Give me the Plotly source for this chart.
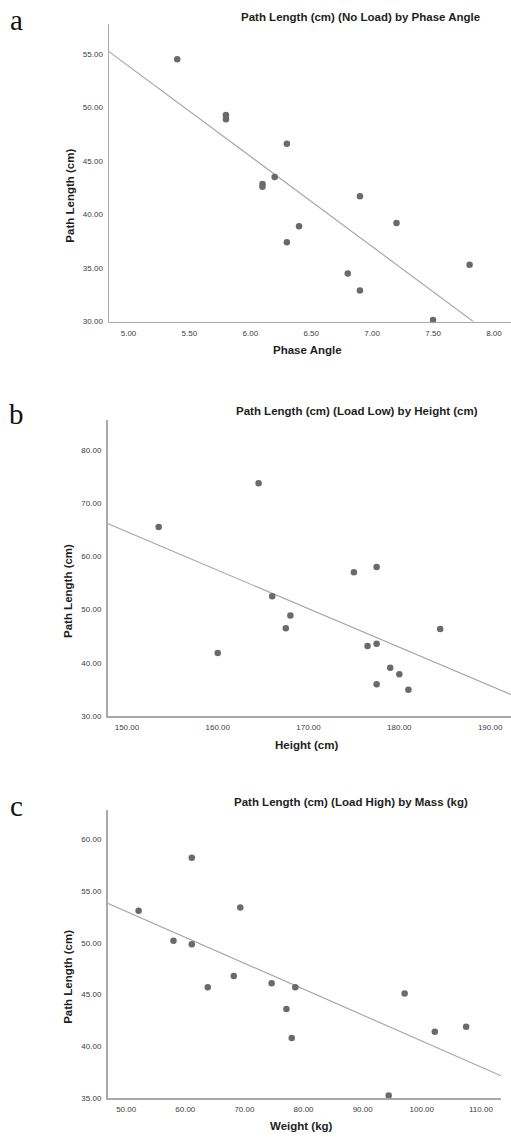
import numpy as np
import plotly.graph_objects as go

W, H = 511, 1138

# ---- Data ----
phase_angle = [5.4, 5.8, 5.8, 6.3, 6.2, 6.1, 6.1, 6.9, 7.2, 6.4, 6.3, 7.8, 6.8, 6.9, 7.5]
path_no_load = [54.5, 49.3, 48.9, 46.6, 43.5, 42.85, 42.6, 41.7, 39.2, 38.9, 37.4, 35.3, 34.5, 32.9, 30.15]

height_cm = [153.5, 164.5, 160.0, 166.0, 168.0, 167.5, 175.0, 177.5, 176.5, 177.5, 179.0, 180.0, 177.5, 181.0, 184.5]
path_load_low = [65.5, 73.7, 41.9, 52.5, 48.9, 46.5, 57.0, 58.0, 43.2, 43.6, 39.1, 37.9, 36.0, 35.0, 46.4]

mass_kg = [52.1, 61.1, 58.0, 61.1, 69.3, 63.8, 68.2, 74.6, 78.6, 77.1, 78.0, 94.4, 97.1, 102.2, 107.5]
path_load_high = [53.1, 58.2, 50.2, 49.85, 53.4, 45.7, 46.8, 46.1, 45.7, 43.6, 40.8, 35.25, 45.1, 41.4, 41.9]

titles = ["Path Length (cm) (No Load) by Phase Angle",
          "Path Length (cm) (Load Low) by Height (cm)",
          "Path Length (cm) (Load High) by Mass (kg)"]
x_titles = ["Phase Angle", "Height (cm)", "Weight (kg)"]
y_title = "Path Length (cm)"
panel_labels = ["a", "b", "c"]

x_ticks = [[5.0, 5.5, 6.0, 6.5, 7.0, 7.5, 8.0],
           [150, 160, 170, 180, 190],
           [50, 60, 70, 80, 90, 100, 110]]
y_ticks = [[30, 35, 40, 45, 50, 55],
           [30, 40, 50, 60, 70, 80],
           [35, 40, 45, 50, 55, 60]]

# ---- Layout (pixels) ----
panels = [
    dict(x=phase_angle, y=path_no_load, xr=[4.84, 8.14], yr=[30, 57.8],
         px=(109, 511), py=(24, 323), title_xy=(360, 17), xt_y=352, yt_x=70, lab_y=20),
    dict(x=height_cm, y=path_load_low, xr=[147.86, 192.3], yr=[30, 85.6],
         px=(107.5, 511), py=(421.7, 719.5), title_xy=(357, 413), xt_y=748, yt_x=68, lab_y=416),
    dict(x=mass_kg, y=path_load_high, xr=[46.84, 113.4], yr=[35, 62.84],
         px=(107.5, 501), py=(813.3, 1103), title_xy=(351, 806), xt_y=1131, yt_x=68, lab_y=810),
]

AX_COLOR = "#a9a9a9"
PT_COLOR = "#6a6a6a"
LINE_COLOR = "#a3a3a3"
TXT = "#1e1e1e"
TICK_TXT = "#3c3c3c"

fig = go.Figure()
annotations = []
layout = dict(width=W, height=H, margin=dict(l=0, r=0, t=0, b=0),
              paper_bgcolor="white", plot_bgcolor="white", showlegend=False,
              font=dict(family="Liberation Sans, Arial, sans-serif"))

for i, p in enumerate(panels):
    n = "" if i == 0 else str(i + 1)
    xa, ya = "x" + n, "y" + n
    xs = np.array(p["x"], dtype=float)
    ys = np.array(p["y"], dtype=float)
    slope, icpt = np.polyfit(xs, ys, 1)
    lx = np.array(p["xr"])
    ly = icpt + slope * lx
    fig.add_trace(go.Scatter(x=lx, y=ly, mode="lines", xaxis=xa, yaxis=ya,
                             line=dict(color=LINE_COLOR, width=1.1), hoverinfo="skip"))
    fig.add_trace(go.Scatter(x=xs, y=ys, mode="markers", xaxis=xa, yaxis=ya, cliponaxis=False,
                             marker=dict(color=PT_COLOR, size=6.5, line=dict(width=0))))
    x0, x1 = p["px"]
    y0, y1 = p["py"]
    common = dict(showgrid=False, zeroline=False, showline=True, linecolor=AX_COLOR,
                  linewidth=1.5, ticks="", tickformat=".2f",
                  tickfont=dict(size=8, color=TICK_TXT, family="Liberation Sans, Arial"))
    layout["xaxis" + n] = dict(common, domain=[x0 / W, x1 / W], range=p["xr"],
                               tickvals=x_ticks[i], anchor=ya, ticklabelstandoff=3)
    layout["yaxis" + n] = dict(common, domain=[1 - y1 / H, 1 - y0 / H], range=p["yr"],
                               tickvals=y_ticks[i], anchor=xa, ticklabelstandoff=3)
    tx, ty = p["title_xy"]
    annotations.append(dict(text="<b>%s</b>" % titles[i], x=tx / W, y=1 - ty / H,
                            xref="paper", yref="paper", showarrow=False,
                            xanchor="center", yanchor="middle",
                            font=dict(size=11.5, color=TXT)))
    annotations.append(dict(text="<b>%s</b>" % x_titles[i], x=((x0 + x1) / 2 - 3) / W,
                            y=1 - p["xt_y"] / H, xref="paper", yref="paper", showarrow=False,
                            xanchor="center", yanchor="middle",
                            font=dict(size=11.5, color=TXT)))
    annotations.append(dict(text="<b>%s</b>" % y_title, x=p["yt_x"] / W,
                            y=1 - ((y0 + y1) / 2 + 23) / H, xref="paper", yref="paper",
                            showarrow=False, textangle=-90, xanchor="center", yanchor="middle",
                            font=dict(size=11.5, color=TXT)))
    annotations.append(dict(text=panel_labels[i], x=16 / W, y=1 - p["lab_y"] / H,
                            xref="paper", yref="paper", showarrow=False,
                            xanchor="center", yanchor="middle",
                            font=dict(size=29, color="#111111",
                                      family="Liberation Serif, Times New Roman, serif")))

layout["annotations"] = annotations
fig.update_layout(**layout)
fig.write_html("out.html", config={"displayModeBar": False, "staticPlot": True},
               post_script="document.body.style.margin='0';document.body.style.padding='0';"
                           "document.body.style.overflow='hidden';")
